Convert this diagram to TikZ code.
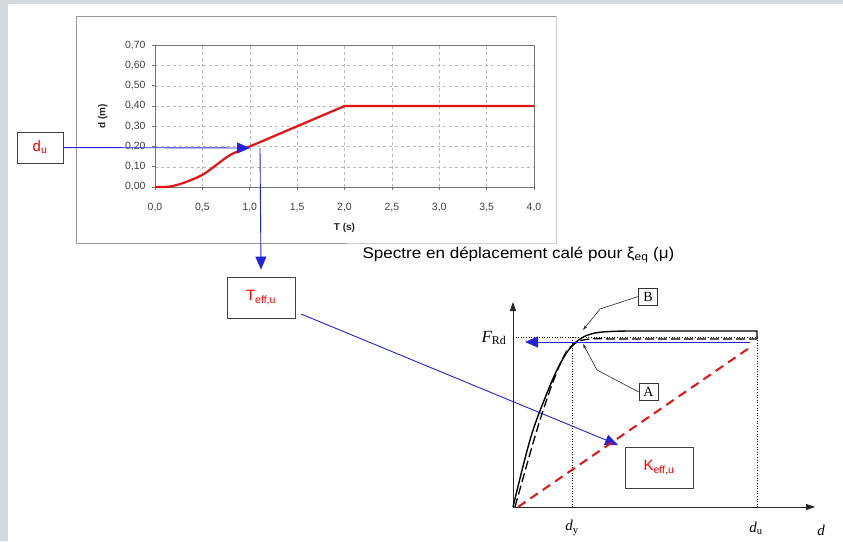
\documentclass[tikz,border=0pt]{standalone}
\usepackage{fontspec}
\setmainfont{Liberation Sans}
\newfontfamily\serifgraph{Liberation Serif}
\usetikzlibrary{arrows.meta,positioning}
\definecolor{panelgray}{RGB}{211,217,220}
\definecolor{linkblue}{RGB}{35,35,220}
\definecolor{curvered}{RGB}{228,20,20}
\definecolor{gridgray}{RGB}{185,185,185}
\definecolor{framegray}{RGB}{150,150,150}

\begin{document}
\begin{tikzpicture}[x=1pt, y=-1pt, line width=0.8pt,
  redbox/.style={draw=black!75, line width=0.9pt, fill=white, text=red, minimum width=68pt, minimum height=41pt, inner sep=0pt, font=\fontsize{15}{15}\selectfont},
  letterbox/.style={draw=black!80, line width=0.6pt, fill=white, inner sep=1.5pt, minimum width=19pt, minimum height=17pt, font=\serifgraph\fontsize{14}{14}\selectfont},
  bluearrow/.style={draw=linkblue, line width=0.9pt, -{Triangle[length=13pt,width=11pt]}},
  leader/.style={draw=black!85, line width=0.6pt, -{Stealth[length=5pt,width=3pt]}},
  axisarrow/.style={draw=black!85, line width=0.8pt, -{Triangle[length=9pt,width=6pt]}},
  tick/.style={font=\fontsize{10.5}{10.5}\selectfont, text=black!75},
  axislabel/.style={font=\bfseries\fontsize{10}{10}\selectfont, text=black!85},
  graphlabel/.style={font=\serifgraph\itshape\fontsize{15}{15}\selectfont}]
  \fill[panelgray] (0,0) rectangle (843,541);
  \fill[white] (8,4) rectangle (843,541);
  \useasboundingbox (0,0) rectangle (843,541);

  % chart frame, right part fades out
  \draw[framegray] (347,243) -- (76,243) -- (76,16) -- (556,16);
  \draw[black!20] (347,243) -- (556,243) -- (556,16);

  % spectre en deplacement, T in s and d in m
  \begin{scope}[shift={(155,187)}, x=94.75pt, y=202.5pt]
    \foreach \i in {1,...,6} \draw[gridgray, dashed, line width=0.5pt] (0,\i/10) -- (4,\i/10);
    \foreach \t in {0.5,1,...,3.5} \draw[gridgray, dashed, line width=0.5pt] (\t,0) -- (\t,0.7);
    \draw[black!55, line width=0.6pt] (0,0) rectangle (4,0.7);
    \foreach \i in {0,...,7} {
      \draw[black!55, line width=0.6pt] (-0.03,\i/10) -- (0,\i/10);
      \node[tick, anchor=east] (ytick\i) at (-0.06,\i/10) {0,\i0};
    }
    \foreach \i in {0,...,8} {
      \pgfmathtruncatemacro\a{\i/2}\pgfmathtruncatemacro\b{5*mod(\i,2)}
      \draw[black!55, line width=0.6pt] (\i/2,0) -- (\i/2,-0.015);
      \node[tick] (xtick\i) at (\i/2,-0.1) {\a,\b};
    }
    \draw[curvered, line width=2.2pt, line join=round] plot[smooth] coordinates {(0,0) (0.15,0.002) (0.3,0.02) (0.5,0.06) (0.65,0.11) (0.8,0.16) (1.0,0.2)} -- (2,0.4) -- (4,0.4);
    \node[axislabel, rotate=90] (dlabel) at (-0.55,0.35) {d (m)};
    \node[axislabel] (tlabel) at (2,-0.2) {T (s)};
  \end{scope}

  \node[redbox, minimum width=46pt, minimum height=31pt] (du) at (40,147.5) {d\textsubscript{u}};
  \node[redbox] (teff) at (261,297.5) {T\textsubscript{eff,u}};
  \node[redbox] (keff) at (659,467.5) {K\textsubscript{eff,u}};
  \node (spectre) at (518.5,255) {\scalebox{1.1}[1]{\fontsize{15.5}{15.5}\selectfont Spectre en déplacement calé pour ξ\textsubscript{eq} (μ)}};

  \coordinate (duTip) at (250,148);
  \coordinate (bend) at (260,148);
  \coordinate (kTip) at (618,445);
  \draw[bluearrow] (du) -- (duTip);
  \draw[bluearrow] (bend) -- ([yshift=7pt]teff.north);
  \draw[bluearrow, shorten <=6pt] (teff) -- (kTip);

  % force - deplacement
  \coordinate (O) at (513,507);
  \draw[axisarrow] (O) -- (513,302);
  \draw[axisarrow] (O) -- (815,507);
  \draw[dotted, line width=0.6pt] (513,337) -- (757,337);
  \draw[dotted, line width=0.6pt] (572,507) -- (572,337);
  \draw[dotted, line width=0.6pt] (757,507) -- (757,337);
  \draw[curvered, line width=2pt, dash pattern=on 9pt off 6pt] (518,507) -- (752,346);
  \draw[line width=1.3pt, dash pattern=on 9pt off 4pt] plot[smooth, tension=0.6] coordinates {(515,507) (540,420) (561,362) (574,344) (590,339) (610,339)} -- (757,339);
  \draw[line width=1.4pt] plot[smooth, tension=0.6] coordinates {(513,507) (530,440) (545,398) (560,364) (575,343) (595,333) (630,331)} -- (757,331) -- (757,339);
  \coordinate (frdStart) at (750,342);
  \coordinate (frdTip) at (525,342);
  \draw[bluearrow] (frdStart) -- (frdTip);

  \node[graphlabel, font=\serifgraph\itshape\fontsize{17}{17}\selectfont, anchor=east] (frd) at (510,338) {F\textsubscript{\upshape Rd}};
  \node[graphlabel] (dy) at (572,528) {d\textsubscript{\upshape y}};
  \node[graphlabel] (dult) at (756,528) {d\textsubscript{\upshape u}};
  \node[graphlabel] (dax) at (821,530) {d};

  \node[letterbox] (boxb) at (648,296.5) {B};
  \node[letterbox] (boxa) at (648.5,392) {A};
  \coordinate (bKnee) at (600,309);
  \coordinate (bEnd) at (583,330);
  \coordinate (aKnee) at (597,370);
  \coordinate (aEnd) at (583,344);
  \draw[leader] (boxb.west) -- (bKnee) -- (bEnd);
  \draw[leader] (boxa.west) -- (aKnee) -- (aEnd);
\end{tikzpicture}
\end{document}
